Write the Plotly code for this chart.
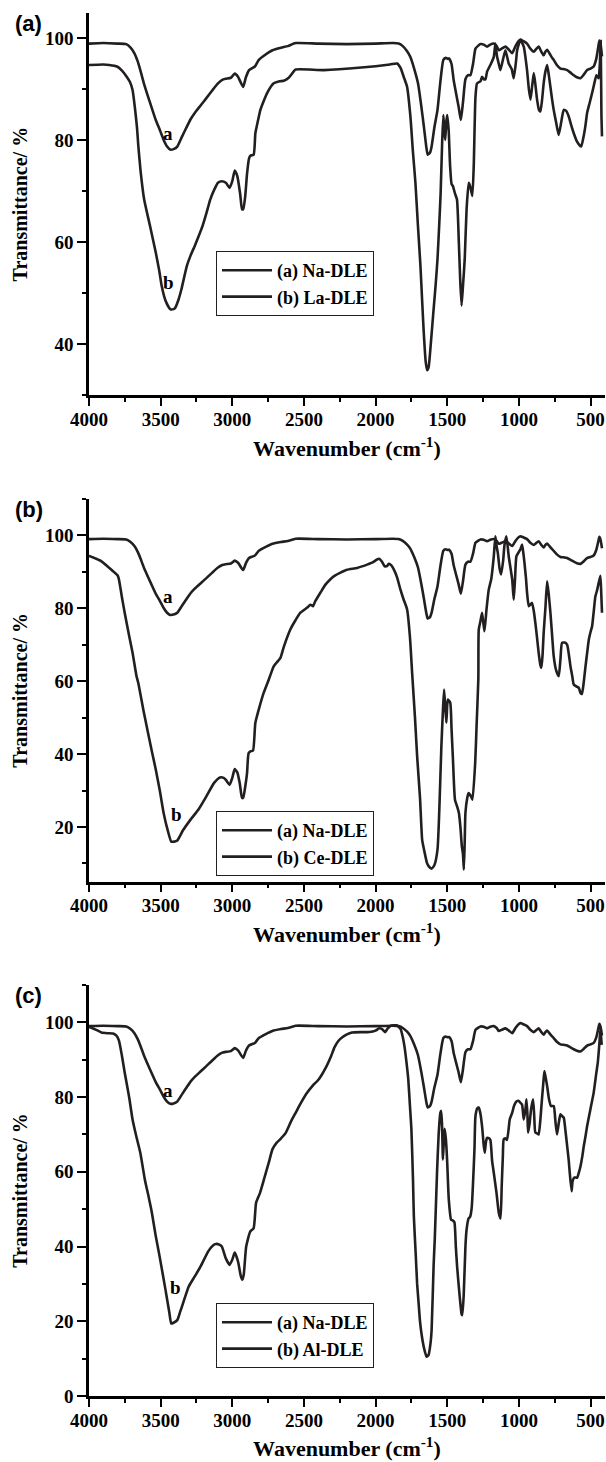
import plotly.graph_objects as go

# ---------------- data ----------------
na_wn = [4000, 3900, 3800, 3740, 3710, 3683, 3660, 3642, 3615, 3588, 3560, 3534, 3505, 3479, 3455, 3433,
         3410, 3384, 3350, 3317, 3290, 3262, 3220, 3181, 3140, 3100, 3070, 3046, 3010, 2983, 2960, 2940,
         2924, 2905, 2883, 2860, 2842, 2815, 2770, 2720, 2660, 2612, 2558, 2400, 2200, 2000, 1880, 1839,
         1810, 1780, 1758, 1730, 1704, 1680, 1663, 1645, 1636, 1620, 1609, 1590, 1568, 1548, 1527, 1510,
         1495, 1487, 1470, 1455, 1440, 1420, 1405, 1390, 1373, 1355, 1338, 1320, 1303, 1283, 1268, 1245,
         1222, 1200, 1175, 1155, 1140, 1120, 1094, 1070, 1047, 1025, 1005, 989, 970, 943, 920, 896, 880,
         862, 845, 827, 815, 803, 785, 770, 757, 735, 710, 690, 663, 640, 617, 595, 570, 550, 524, 500,
         478, 460, 445, 438, 430, 420]
na_t = [99.0, 99.1, 99.0, 98.9, 98.2, 97.1, 95.5, 93.8, 91.0, 88.6, 86.2, 84.0, 82.0, 80.1, 78.8, 78.2,
        78.3, 78.8, 80.8, 82.7, 84.2, 85.4, 86.9, 88.3, 89.8, 91.2, 91.9, 92.1, 92.3, 93.1, 92.5, 91.3,
        90.5, 92.4, 93.8, 94.2, 94.5, 95.8, 96.8, 97.7, 98.2, 98.5, 99.1, 99.0, 98.9, 99.0, 99.1, 99.0,
        98.5, 97.5, 96.4, 94.0, 91.2, 86.5, 82.7, 78.5, 77.2, 77.6, 78.8, 82.5, 86.0, 91.5, 95.8, 96.2,
        96.0, 96.1, 95.0, 91.8, 89.5, 86.5, 84.0, 87.5, 92.0, 92.8, 92.8, 95.0, 98.0, 98.6, 98.9, 98.8,
        98.4, 98.8, 99.0, 98.5, 97.7, 98.0, 98.4, 97.8, 97.1, 98.4, 99.4, 99.8, 99.5, 99.0, 98.0, 97.4, 97.9,
        98.4, 97.5, 96.7, 97.4, 97.8, 97.0, 96.3, 95.8, 94.8, 94.1, 94.0, 93.8, 93.3, 92.8, 92.4, 92.2, 92.8, 93.8, 94.1,
        94.5, 96.0, 98.5, 99.6, 98.8, 96.5]

la_wn = [4000, 3900, 3859, 3805, 3770, 3737, 3715, 3696, 3680, 3665, 3656, 3640, 3615, 3574, 3534, 3510,
         3493, 3465, 3433, 3410, 3398, 3375, 3355, 3317, 3290, 3262, 3235, 3208, 3180, 3154, 3125, 3100,
         3073, 3045, 3019, 3000, 2983, 2965, 2945, 2932, 2924, 2910, 2897, 2883, 2874, 2851, 2839, 2820,
         2804, 2780, 2757, 2711, 2670, 2641, 2606, 2580, 2560, 2362, 2100, 1900, 1850, 1825, 1804, 1780,
         1757, 1740, 1722, 1705, 1687, 1675, 1664, 1650, 1640, 1630, 1615, 1595, 1580, 1568, 1555, 1546,
         1535, 1527, 1520, 1514, 1507, 1500, 1490, 1480, 1470, 1460, 1445, 1432, 1419, 1410, 1400, 1390,
         1378, 1365, 1350, 1340, 1325, 1315, 1303, 1292, 1268, 1257, 1245, 1233, 1222, 1199, 1175, 1164,
         1152, 1140, 1129, 1110, 1094, 1071, 1050, 1036, 1020, 1012, 989, 966, 955, 943, 930, 919, 908,
         896, 885, 873, 860, 850, 838, 827, 815, 803, 792, 780, 768, 757, 740, 722, 705, 687, 670, 652,
         635, 617, 595, 575, 565, 548, 535, 524, 505, 489, 475, 459, 450, 443, 435, 429, 424, 420]
la_t = [94.8, 94.9, 94.8, 94.5, 93.7, 92.5, 91.5, 89.9, 86.5, 82.5, 79.0, 74.0, 68.4, 63.2, 58.0, 54.5,
        51.5, 48.5, 46.9, 46.9, 47.2, 48.8, 50.8, 55.4, 57.5, 59.3, 61.2, 63.2, 65.8, 68.4, 70.4, 71.7,
        72.0, 71.7, 70.7, 72.0, 74.1, 73.0, 69.5, 66.5, 66.5, 69.0, 73.5, 76.5, 77.0, 77.2, 81.4, 84.0,
        86.0, 87.8, 89.3, 91.2, 91.6, 91.7, 92.3, 93.2, 93.9, 93.8, 94.3, 94.9, 95.1, 94.2, 92.5, 90.5,
        84.7, 78.0, 71.7, 63.5, 55.4, 48.5, 42.4, 36.5, 34.9, 35.5, 40.0, 46.9, 52.0, 56.7, 64.0, 69.7,
        80.0, 85.0, 82.0, 80.1, 83.5, 85.0, 82.0, 75.0, 71.5, 71.0, 69.5, 68.4, 60.0, 53.0, 47.6, 51.5,
        56.7, 66.5, 71.7, 71.0, 69.1, 75.0, 88.5, 91.2, 91.6, 92.5, 92.0, 92.0, 93.5, 94.8, 96.4, 99.0,
        96.4, 95.0, 93.8, 96.0, 97.7, 95.1, 94.0, 92.2, 95.5, 97.7, 99.7, 98.4, 96.5, 93.8, 90.0, 88.0, 90.5,
        93.2, 91.0, 88.0, 86.0, 85.7, 88.0, 91.2, 93.5, 94.8, 93.0, 90.5, 88.0, 86.0, 83.5, 81.1, 83.5, 86.0, 85.8, 84.7,
        83.0, 81.4, 79.8, 79.0, 78.8, 80.8, 83.0, 85.4, 87.5, 89.3, 91.0, 92.8, 92.5, 92.2, 95.0, 99.5, 85.0, 80.8]

ce_wn = [4000, 3994, 3950, 3913, 3870, 3832, 3800, 3791, 3770, 3751, 3720, 3696, 3669, 3656, 3620, 3588,
         3560, 3534, 3505, 3479, 3450, 3426, 3405, 3384, 3344, 3290, 3236, 3181, 3127, 3086, 3060, 3046,
         3019, 3000, 2983, 2965, 2948, 2932, 2924, 2910, 2897, 2886, 2870, 2855, 2839, 2810, 2781, 2745,
         2711, 2680, 2664, 2640, 2595, 2558, 2525, 2477, 2455, 2436, 2423, 2385, 2350, 2315, 2287, 2245,
         2200, 2129, 2059, 2020, 1990, 1975, 1955, 1938, 1920, 1908, 1890, 1873, 1850, 1827, 1805, 1780,
         1760, 1745, 1725, 1710, 1690, 1675, 1663, 1640, 1620, 1609, 1590, 1568, 1555, 1541, 1530, 1522,
         1514, 1506, 1500, 1495, 1479, 1470, 1460, 1446, 1430, 1419, 1408, 1398, 1390, 1384, 1378, 1373,
         1360, 1351, 1335, 1324, 1305, 1295, 1283, 1280, 1268, 1257, 1248, 1240, 1226, 1210, 1193, 1175,
         1164, 1155, 1147, 1135, 1124, 1110, 1100, 1087, 1071, 1047, 1036, 1027, 1017, 1000, 989, 978, 970,
         961, 950, 943, 931, 920, 908, 895, 885, 872, 862, 850, 843, 835, 827, 815, 803, 792, 780, 768,
         757, 740, 722, 710, 699, 680, 663, 650, 640, 628, 617, 600, 582, 570, 560, 548, 535, 523, 512,
         500, 489, 478, 466, 454, 443, 431, 425, 420]
ce_t = [94.5, 94.3, 93.6, 92.9, 91.5, 90.2, 89.0, 87.9, 83.0, 78.8, 72.5, 67.8, 61.5, 59.5, 52.0, 45.8,
        40.5, 35.8, 29.8, 23.8, 19.0, 16.0, 16.0, 16.3, 19.1, 22.1, 24.8, 28.4, 32.1, 33.6, 33.5, 33.0,
        31.6, 33.5, 35.9, 35.0, 32.0, 28.0, 28.0, 31.0, 34.8, 40.3, 40.8, 41.0, 48.6, 53.0, 56.8, 60.5,
        64.1, 65.6, 66.4, 69.5, 74.2, 76.8, 78.8, 80.2, 81.0, 80.6, 81.8, 84.3, 86.5, 88.0, 88.9, 89.8,
        90.6, 91.1, 92.0, 92.6, 93.4, 93.6, 92.8, 91.6, 91.6, 92.2, 91.8, 90.7, 88.5, 85.2, 82.5, 79.7,
        72.0, 62.3, 50.0, 39.4, 28.0, 16.5, 14.0, 10.0, 8.8, 8.6, 9.5, 13.8, 25.0, 42.1, 52.0, 57.7,
        53.0, 48.6, 53.5, 55.0, 54.1, 47.0, 38.5, 27.5, 25.5, 23.9, 20.0, 14.7, 12.5, 8.3, 16.0, 23.9,
        28.0, 29.3, 28.5, 27.5, 37.6, 48.0, 60.5, 74.2, 76.5, 78.8, 76.0, 73.7, 79.7, 85.2, 88.0, 94.3,
        99.8, 97.0, 95.2, 91.0, 89.3, 93.0, 97.5, 99.8, 94.3, 88.0, 82.4, 88.0, 94.3, 95.5, 96.2, 97.5, 95.5,
        92.5, 88.0, 84.3, 80.6, 81.0, 81.5, 79.0, 76.0, 71.5, 67.8, 64.5, 63.7, 67.0, 73.3, 80.0, 87.4, 84.0, 78.8, 72.5,
        66.9, 63.0, 61.4, 66.0, 70.5, 70.6, 70.0, 67.0, 64.1, 61.5, 59.1, 58.6, 58.2, 56.8, 56.5, 59.5, 64.1, 68.0, 71.4,
        73.5, 75.1, 79.0, 83.3, 85.0, 87.0, 88.9, 84.0, 78.8]

al_wn = [4000, 3994, 3950, 3913, 3870, 3832, 3810, 3791, 3770, 3751, 3720, 3696, 3670, 3642, 3610, 3585,
         3561, 3535, 3507, 3466, 3440, 3426, 3410, 3384, 3364, 3344, 3304, 3262, 3222, 3168, 3135, 3114,
         3090, 3073, 3046, 3019, 3000, 2983, 2960, 2940, 2930, 2920, 2903, 2875, 2851, 2834, 2807, 2775,
         2745, 2720, 2690, 2666, 2626, 2590, 2558, 2520, 2477, 2440, 2396, 2342, 2310, 2287, 2260, 2232,
         2200, 2165, 2100, 2043, 2000, 1975, 1955, 1934, 1915, 1894, 1853, 1840, 1825, 1810, 1799, 1785,
         1772, 1760, 1750, 1739, 1733, 1720, 1710, 1700, 1690, 1677, 1660, 1644, 1630, 1617, 1609, 1595,
         1587, 1571, 1560, 1548, 1542, 1536, 1530, 1524, 1518, 1510, 1501, 1489, 1473, 1462, 1450, 1440,
         1431, 1413, 1400, 1395, 1385, 1373, 1365, 1351, 1340, 1329, 1320, 1310, 1303, 1290, 1280, 1268,
         1257, 1245, 1238, 1230, 1222, 1210, 1199, 1187, 1175, 1156, 1140, 1128, 1120, 1112, 1106, 1095,
         1083, 1070, 1064, 1047, 1035, 1024, 1010, 1001, 990, 978, 966, 955, 947, 940, 936, 925, 915, 901,
         893, 885, 872, 862, 850, 839, 830, 822, 812, 803, 790, 776, 757, 745, 734, 722, 710, 700, 687,
         675, 663, 652, 645, 632, 625, 612, 594, 580, 570, 558, 547, 535, 524, 501, 478, 459, 450, 443,
         436, 431, 427, 422]
al_t = [98.7, 98.7, 98.0, 97.3, 97.1, 97.0, 96.5, 95.1, 91.0, 86.6, 80.0, 74.0, 69.5, 65.1, 57.9, 53.5,
        49.0, 43.0, 37.3, 28.4, 22.5, 19.4, 19.6, 20.3, 22.5, 24.8, 29.3, 32.0, 34.6, 38.7, 40.3, 40.7,
        40.5, 40.0, 36.9, 35.1, 36.5, 38.4, 36.0, 32.0, 31.1, 32.5, 40.0, 44.0, 44.9, 51.7, 54.3, 58.5,
        62.5, 66.0, 67.8, 68.7, 70.5, 73.5, 75.8, 78.5, 81.2, 83.0, 84.8, 88.3, 91.0, 93.3, 95.0, 96.0,
        96.8, 97.3, 97.4, 97.4, 97.8, 98.4, 98.2, 97.4, 98.4, 99.1, 99.2, 98.8, 98.2, 96.0, 93.7, 89.5,
        84.8, 77.5, 71.3, 57.9, 48.1, 38.0, 30.0, 25.0, 20.0, 16.0, 12.5, 10.5, 11.0, 14.0, 17.6, 35.0,
        42.0, 60.0, 70.0, 75.8, 76.3, 72.2, 63.3, 68.0, 71.5, 69.0, 63.3, 52.5, 47.2, 47.0, 46.5, 40.0,
        34.6, 26.6, 22.0, 21.6, 27.0, 40.0, 44.5, 47.5, 48.0, 50.5, 57.0, 66.0, 74.9, 77.0, 77.2, 75.5,
        72.2, 67.0, 65.1, 68.0, 69.1, 69.0, 68.5, 63.0, 59.7, 54.3, 49.0, 47.5, 56.0, 64.0, 68.7, 69.0,
        68.5, 72.0, 74.0, 75.8, 77.5, 78.5, 79.0, 79.0, 78.5, 78.0, 74.0, 76.5, 79.4, 75.0, 70.5, 73.0, 76.7, 79.4,
        75.0, 70.5, 70.3, 70.0, 74.0, 79.4, 83.5, 87.0, 85.0, 83.0, 79.5, 77.6, 77.6, 73.5, 70.0, 73.0, 75.4, 75.0, 74.5,
        71.0, 66.9, 63.0, 59.7, 54.8, 57.5, 58.5, 58.4, 60.0, 61.5, 64.0, 66.9, 69.5, 72.2, 76.7, 81.2, 86.6, 89.0, 92.0,
        95.5, 98.2, 96.5, 94.0]

panel_names = ["(b) La-DLE", "(b) Ce-DLE", "(b) Al-DLE"]
ref_name = "(a) Na-DLE"
panel_tags = ["(a)", "(b)", "(c)"]
x_ticks = [4000, 3500, 3000, 2500, 2000, 1500, 1000, 500]
y_ticks = [[40, 60, 80, 100], [20, 40, 60, 80, 100], [0, 20, 40, 60, 80, 100]]
y_ranges = [[30, 105], [5, 110], [0, 110]]
# positions of the "a"/"b" curve labels, (wavenumber, transmittance)
lab_a = [(3447, 81.4), (3447, 83.2), (3447, 81.8)]
lab_b = [(3447, 52.1), (3390, 23.4), (3398, 29.1)]

# ---------------- layout geometry ----------------
W, H = 606, 1462
ML, MR, MT, MB = 89, 1, 13, 66
PH = H - MT - MB
def ydom(top_px, bot_px):
    return [(H - MB - bot_px) / PH, (H - MB - top_px) / PH]
y_domains = [ydom(13, 395.3), ydom(499, 881.7), ydom(985, 1396)]
legend_top_px = [251, 811, 1303]
legend_left_px = 216

LINE = "#231f20"
SERIF = "Liberation Serif"
series = [(la_wn, la_t), (ce_wn, ce_t), (al_wn, al_t)]

fig = go.Figure()
for i in range(3):
    sfx = "" if i == 0 else str(i + 1)
    leg = "legend" if i == 0 else f"legend{i + 1}"
    fig.add_trace(go.Scatter(x=na_wn, y=na_t, mode="lines", name=ref_name,
                             line=dict(color=LINE, width=2.6, shape="spline", smoothing=0.5),
                             xaxis="x" + sfx, yaxis="y" + sfx, legend=leg))
    wx, wy = series[i]
    fig.add_trace(go.Scatter(x=wx, y=wy, mode="lines", name=panel_names[i],
                             line=dict(color=LINE, width=2.6, shape="spline", smoothing=0.5),
                             xaxis="x" + sfx, yaxis="y" + sfx, legend=leg))

layout = dict(
    width=W, height=H, margin=dict(l=ML, r=MR, t=MT, b=MB),
    paper_bgcolor="white", plot_bgcolor="white", showlegend=True,
    annotations=[], font=dict(family=SERIF, color="black"),
)
tick_font = dict(family=SERIF, size=19, color="black", weight="bold")
for i in range(3):
    sfx = "" if i == 0 else str(i + 1)
    layout["xaxis" + sfx] = dict(
        domain=[0, 1], anchor="y" + sfx, range=[4000, 399], autorange=False,
        tickvals=x_ticks, ticktext=[str(v) for v in x_ticks], ticks="outside", ticklen=8, tickwidth=2,
        tickcolor="black", showline=True, linecolor="black", linewidth=2.5, showgrid=False, zeroline=False,
        minor=dict(dtick=250, tick0=0, ticks="outside", ticklen=4, tickwidth=1.5, tickcolor="black", showgrid=False),
        tickfont=tick_font, ticklabelstandoff=-3,
        title=dict(text="Wavenumber (cm<sup>-1</sup>)", font=dict(family=SERIF, size=22, color="black", weight="bold"),
                   standoff=12),
    )
    layout["yaxis" + sfx] = dict(
        domain=y_domains[i], anchor="x" + sfx, range=y_ranges[i], autorange=False,
        tickvals=y_ticks[i], ticks="outside", ticklen=9, tickwidth=2, tickcolor="black",
        showline=True, linecolor="black", linewidth=2.5, showgrid=False, zeroline=False,
        minor=dict(dtick=10, tick0=0, ticks="outside", ticklen=4, tickwidth=1.5, tickcolor="black", showgrid=False),
        tickfont=tick_font,
        title=dict(text="Transmittance/ %", font=dict(family=SERIF, size=20, color="black", weight="bold"),
                   standoff=12),
    )
    leg = "legend" if i == 0 else f"legend{i + 1}"
    layout[leg] = dict(
        x=(legend_left_px - ML) / (W - ML - MR), y=(H - MB - legend_top_px[i]) / PH,
        xanchor="left", yanchor="top", bgcolor="white", bordercolor="#231f20", borderwidth=1,
        font=dict(family=SERIF, size=18, color="black", weight="bold"), itemwidth=50,
        tracegroupgap=0,
    )
    top_frac = y_domains[i][1]
    layout["annotations"].append(dict(
        text=f"<b>{panel_tags[i]}</b>", xref="paper", yref="paper",
        x=(28.5 - ML) / (W - ML - MR), y=top_frac - 10 / PH, xanchor="center", yanchor="middle",
        showarrow=False, font=dict(family="Liberation Sans", size=22, color="black")))
    for (lx, ly), t in ((lab_a[i], "a"), (lab_b[i], "b")):
        layout["annotations"].append(dict(
            text=f"<b>{t}</b>", xref="x" + sfx, yref="y" + sfx, x=lx, y=ly,
            showarrow=False, font=dict(family=SERIF, size=19, color="black")))

fig.update_layout(**layout)
fig.write_html("out.html")
